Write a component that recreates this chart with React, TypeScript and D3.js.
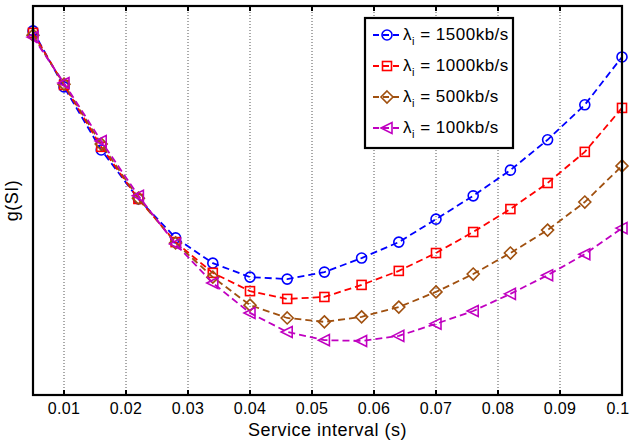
import React from "react";
import * as d3 from "d3";

const xValues = [0.005, 0.01, 0.016, 0.022, 0.028, 0.034, 0.04, 0.046, 0.052, 0.058, 0.064, 0.07, 0.076, 0.082, 0.088, 0.094, 0.1];
const g1500 = [0.936, 0.792, 0.63, 0.504, 0.404, 0.339, 0.303, 0.298, 0.316, 0.352, 0.393, 0.452, 0.512, 0.578, 0.656, 0.746, 0.869];
const g1000 = [0.931, 0.797, 0.638, 0.504, 0.393, 0.314, 0.267, 0.247, 0.252, 0.283, 0.319, 0.365, 0.419, 0.478, 0.545, 0.625, 0.738];
const g500 = [0.925, 0.799, 0.645, 0.506, 0.391, 0.303, 0.231, 0.198, 0.188, 0.201, 0.226, 0.265, 0.311, 0.365, 0.424, 0.496, 0.589];
const g100 = [0.92, 0.802, 0.653, 0.512, 0.388, 0.288, 0.211, 0.162, 0.141, 0.139, 0.152, 0.183, 0.216, 0.26, 0.308, 0.362, 0.429];
const xTicks = [0.01, 0.02, 0.03, 0.04, 0.05, 0.06, 0.07, 0.08, 0.09, 0.1];
const xTickLabels = ["0.01", "0.02", "0.03", "0.04", "0.05", "0.06", "0.07", "0.08", "0.09", "0.1"];
const legendRates = ["1500kb/s", "1000kb/s", "500kb/s", "100kb/s"];

const series = [
  { values: g1500, color: "#0000ff", marker: "circle" },
  { values: g1000, color: "#ff0000", marker: "square" },
  { values: g500, color: "#a0500f", marker: "diamond" },
  { values: g100, color: "#c000c0", marker: "triangle" },
];

const W = 631, H = 442;
const L = 33, R = 622, T = 6, B = 395;
const FONT = "'Liberation Sans', Arial, Helvetica, sans-serif";

function Marker({ type, x, y, color }: { type: string; x: number; y: number; color: string }) {
  const sw = 1.6;
  if (type === "circle") return <circle cx={x} cy={y} r={5} fill="none" stroke={color} strokeWidth={sw} />;
  if (type === "square") return <rect x={x - 4.5} y={y - 4.5} width={9} height={9} fill="none" stroke={color} strokeWidth={sw} />;
  if (type === "diamond") return <path d={`M${x},${y - 6}L${x + 6},${y}L${x},${y + 6}L${x - 6},${y}Z`} fill="none" stroke={color} strokeWidth={sw} />;
  return <path d={`M${x - 6},${y}L${x + 5},${y - 5.5}L${x + 5},${y + 5.5}Z`} fill="none" stroke={color} strokeWidth={sw} />;
}

export default function App() {
  const x = d3.scaleLinear().domain([0.005, 0.1]).range([L, R]);
  const y = d3.scaleLinear().domain([0, 1]).range([B, T]);
  const line = d3.line<number>().x((_, i) => x(xValues[i])).y((d) => y(d));

  const legX = 365, legY = 18, legW = 148, legH = 130;
  return (
    <div style={{ position: "fixed", left: 0, top: 0 }}>
      <svg width={W} height={H} style={{ display: "block", background: "#fff" }} fontFamily={FONT}>
        <rect x={0} y={0} width={W} height={H} fill="#fff" />
        {/* grid */}
        {xTicks.map((t) => (
          <line key={"g" + t} x1={x(t)} x2={x(t)} y1={T} y2={B} stroke="#555" strokeWidth={1} strokeDasharray="1,2" />
        ))}
        {/* ticks */}
        {xTicks.map((t) => (
          <g key={"t" + t}>
            <line x1={x(t)} x2={x(t)} y1={B} y2={B - 5} stroke="#000" strokeWidth={2} />
            <line x1={x(t)} x2={x(t)} y1={T} y2={T + 5} stroke="#000" strokeWidth={2} />
          </g>
        ))}
        {/* series */}
        {series.map((s, si) => (
          <g key={"s" + si}>
            <path d={line(s.values) || ""} fill="none" stroke={s.color} strokeWidth={1.8} strokeDasharray="7,4" />
            {s.values.map((v, i) => (
              <Marker key={i} type={s.marker} x={x(xValues[i])} y={y(v)} color={s.color} />
            ))}
          </g>
        ))}
        {/* frame */}
        <rect x={L} y={T} width={R - L} height={B - T} fill="none" stroke="#000" strokeWidth={2.2} />
        {/* tick labels */}
        {xTicks.map((t, i) => (
          <text key={"l" + t} x={Math.min(x(t), W - 13)} y={B + 19} textAnchor="middle" fontSize={16} letterSpacing={0.3} fill="#000">
            {xTickLabels[i]}
          </text>
        ))}
        <text x={(L + R) / 2} y={436} textAnchor="middle" fontSize={18} letterSpacing={0.5} fill="#000">Service interval (s)</text>
        <text transform={`translate(18,${(T + B) / 2}) rotate(-90)`} textAnchor="middle" fontSize={18} letterSpacing={0.5} fill="#000">g(SI)</text>
        {/* legend */}
        <rect x={legX} y={legY} width={legW} height={legH} fill="#fff" stroke="#000" strokeWidth={2.2} />
        {series.map((s, i) => {
          const cy = legY + 17 + i * 31;
          return (
            <g key={"leg" + i}>
              <line x1={legX + 8} x2={legX + 36} y1={cy} y2={cy} stroke={s.color} strokeWidth={1.8} strokeDasharray="6,4" />
              <Marker type={s.marker} x={legX + 22} y={cy} color={s.color} />
              <text x={legX + 38} y={cy + 5} fontSize={17} letterSpacing={0.5} fill="#000">
                λ<tspan fontSize={11} dy={5}>i</tspan><tspan dy={-5}> = {legendRates[i]}</tspan>
              </text>
            </g>
          );
        })}
      </svg>
    </div>
  );
}
